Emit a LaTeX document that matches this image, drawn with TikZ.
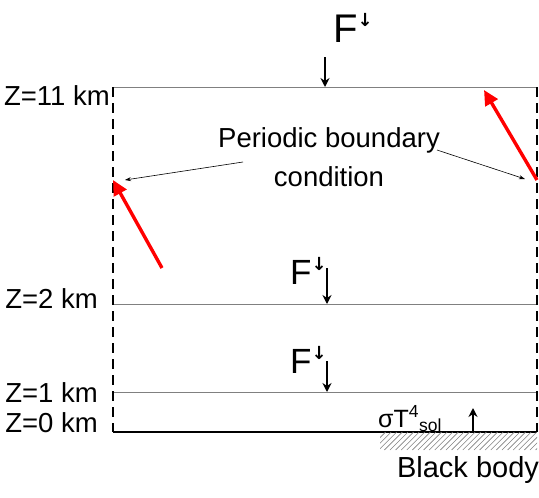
\documentclass[tikz,border=0pt]{standalone}
\usepackage{fontspec}
\setmainfont{Liberation Sans}
\newfontfamily\arrowfont{DejaVu Sans}
\usepackage{xcolor}
\usetikzlibrary{arrows.meta, positioning, calc}

\newcommand{\fdown}[1]{F\raisebox{#1}{\arrowfont\fontsize{18}{18}\selectfont\bfseries ↓}}

\begin{document}
\begin{tikzpicture}[x=1pt, y=-1pt, >=Stealth, inner sep=0pt,
  level/.style={draw=gray, line width=0.9pt},
  ground/.style={draw=black, line width=1.6pt},
  wall/.style={line width=2.6pt, dash pattern=on 10pt off 6pt},
  flux/.style={-{Stealth[length=9pt, width=9pt]}, line width=2.8pt},
  ray/.style={-{Triangle[length=15pt, width=14pt]}, draw=red, line width=3.4pt},
  pointer/.style={-{Stealth[length=6pt, width=4pt]}, line width=0.6pt},
  hatch/.style={draw=gray, line width=0.6pt},
  zlabel/.style={font=\fontsize{27.5}{32}\selectfont, anchor=base east},
  fbig/.style={font=\fontsize{40}{44}\selectfont, anchor=base west},
  fmid/.style={font=\fontsize{35}{40}\selectfont, anchor=base west}]
  \useasboundingbox (0,0) rectangle (539,498);

  % box and levels
  \coordinate (tl) at (113,87);
  \coordinate (tr) at (537,87);
  \coordinate (l2) at (113,304);
  \coordinate (r2) at (537,304);
  \coordinate (l1) at (113,392);
  \coordinate (r1) at (537,392);
  \coordinate (bl) at (113,432);
  \coordinate (br) at (537,432);
  \draw[level] (tl) -- (tr);
  \draw[level] (l2) -- (r2);
  \draw[level] (l1) -- (r1);
  \draw[ground] (bl) -- (br);
  \draw[wall] (tl) -- (bl);
  \draw[wall] (tr) -- (br);

  \node[zlabel] (z11) at (110,105) {Z=11 km};
  \node[zlabel] (z2) at (98,308) {Z=2 km};
  \node[zlabel] (z1) at (98,402) {Z=1 km};
  \node[zlabel] (z0) at (98,432) {Z=0 km};

  % downward fluxes
  \node[fbig] (Ftop) at (333,42) {\fdown{16pt}};
  \node[fmid] (F2) at (290,284) {\fdown{14pt}};
  \node[fmid] (F1) at (290,373) {\fdown{14pt}};
  \coordinate (a11) at (325,57);
  \coordinate (a2) at (327,268);
  \coordinate (a1) at (327,361);
  \draw[flux] (a11) -- (a11 |- tl);
  \draw[flux] (a2) -- (a2 |- l2);
  \draw[flux] (a1) -- (a1 |- l1);

  % periodic boundary
  \node[font=\fontsize{27.5}{39}\selectfont, align=center] (pbc) at (329,157)
    {Periodic boundary\\condition};
  \coordinate (pl) at (243,162);
  \coordinate (ql) at (125,180);
  \coordinate (pr) at (437,150);
  \coordinate (qr) at (525,179);
  \draw[pointer] (pl) -- (ql);
  \draw[pointer] (pr) -- (qr);
  \coordinate (rl) at (162,268);
  \coordinate (hl) at (113,180);
  \coordinate (rr) at (537,180);
  \coordinate (hr) at (484,90);
  \draw[ray] (rl) -- (hl);
  \draw[ray] (rr) -- (hr);

  % black body
  \begin{scope}
    \clip (380,432) rectangle (537,450);
    \foreach \x in {362,367.6,...,545}
      \draw[hatch] (\x,450) -- (\x+18,432);
  \end{scope}
  \node[font=\fontsize{25}{30}\selectfont, anchor=base west] (sig) at (378,427)
    {σT\textsuperscript{4}\textsubscript{sol}};
  \coordinate (a0) at (473,408);
  \draw[flux] (a0 |- bl) -- (a0);
  \node[font=\fontsize{29}{34}\selectfont, anchor=base] (bbody) at (468,477) {Black body};
\end{tikzpicture}
\end{document}
